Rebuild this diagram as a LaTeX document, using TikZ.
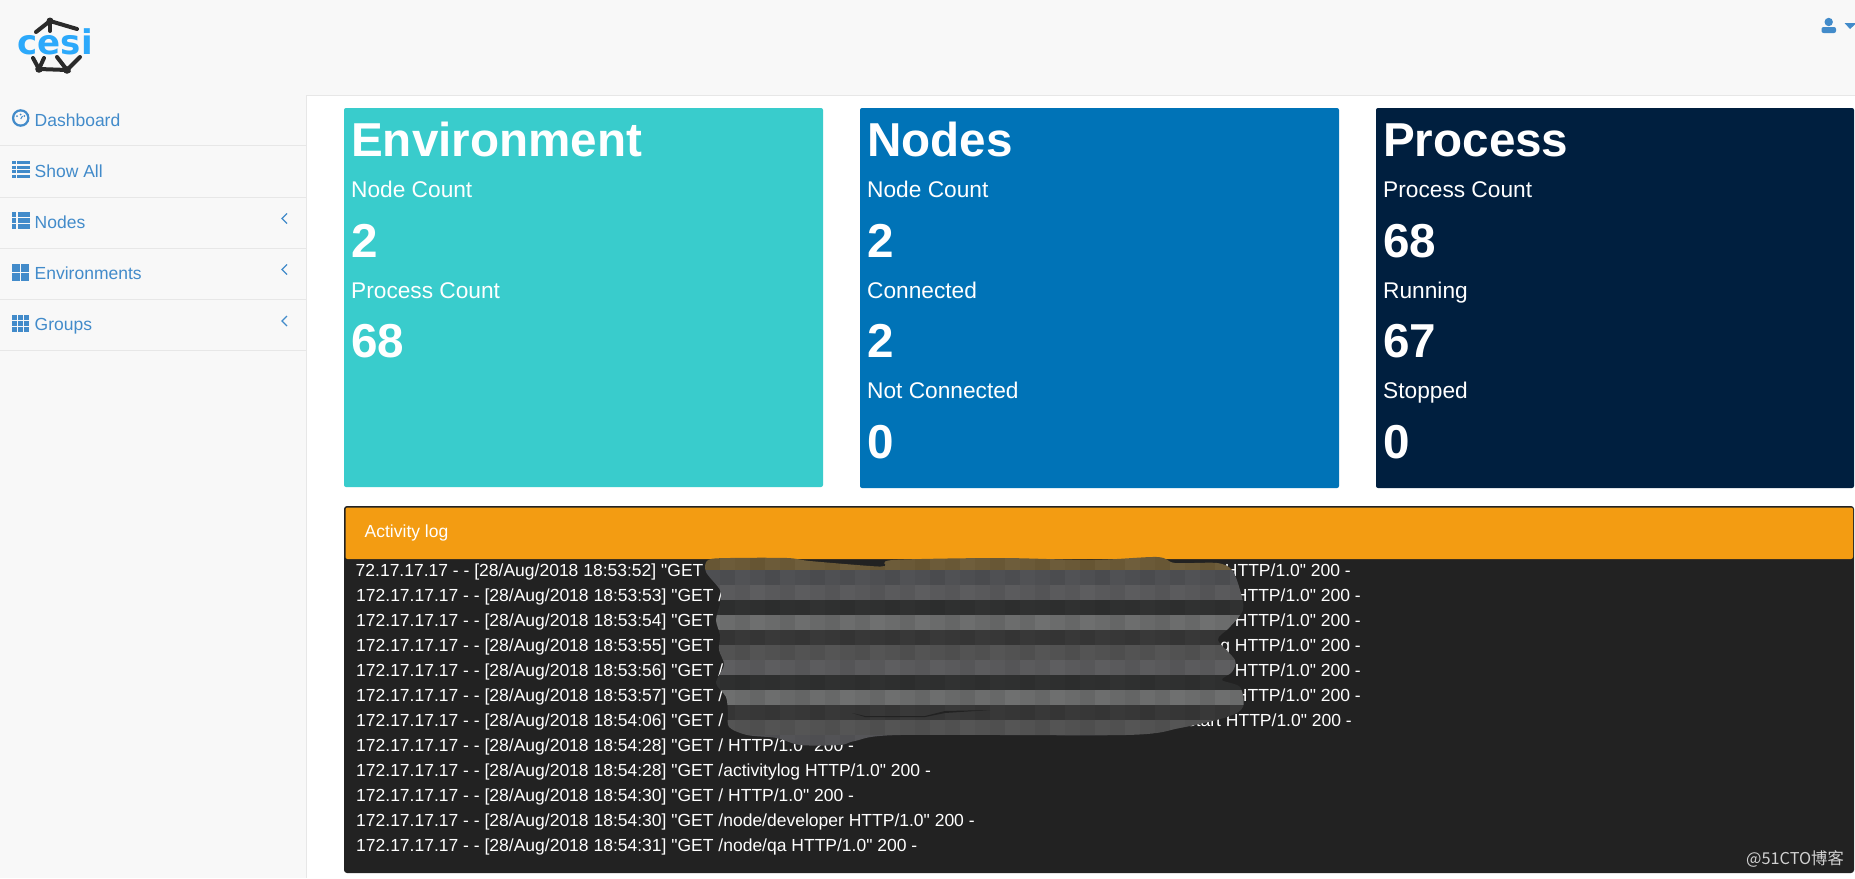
\documentclass[tikz,border=0pt]{standalone}
\usepackage{fontspec}
\setmainfont{Liberation Sans}
\newfontfamily\logtype{Liberation Sans}[Ligatures=NoCommon]
\newfontfamily\cjkfont{Noto Sans CJK SC}
\newfontfamily\logofont{DejaVu Sans}

\definecolor{barbg}{HTML}{F8F8F8}
\definecolor{barline}{HTML}{E7E7E7}
\definecolor{linkblue}{HTML}{428BCA}
\definecolor{envcard}{HTML}{39CCCC}
\definecolor{nodecard}{HTML}{0073B7}
\definecolor{proccard}{HTML}{001F3F}
\definecolor{logorange}{HTML}{F39C12}
\definecolor{logdark}{HTML}{222222}
\definecolor{cesiblue}{HTML}{2CA9FB}
\definecolor{cesidark}{HTML}{2B2B2B}

\tikzset{
  txt/.style={inner sep=0pt, anchor=base west},
  cardtitle/.style={txt, text=white, font=\fontsize{47.6}{50}\selectfont\bfseries},
  cardlabel/.style={txt, text=white, font=\fontsize{22.7}{26}\selectfont},
  cardvalue/.style={txt, text=white, font=\fontsize{47.6}{50}\selectfont\bfseries},
  sidelink/.style={txt, text=linkblue, font=\fontsize{17.5}{20}\selectfont},
  logline/.style={txt, text=white, font=\fontsize{17.5}{20}\selectfont\logtype},
  logtail/.style={logline, anchor=base east},
  sideline/.style={draw=barline, line width=1pt},
  chevron/.style={draw=linkblue, line width=1.1pt},
  linkfill/.style={fill=linkblue},
  cesiline/.style={draw=cesidark, line width=4pt, line cap=round}
}

\begin{document}
\begin{tikzpicture}[x=1pt,y=-1pt]
\useasboundingbox (0,0) rectangle (1855,878);
\fill [white] (0,0) rectangle (1855,878);

% top bar and side bar
\fill [barbg] (0,0) rectangle (1855,95);
\fill [barbg] (0,95) rectangle (306,878);
\draw [sideline] (306,95) -- (1855,95);
\draw [sideline] (306.5,95) -- (306.5,878);
\draw [sideline] (0,145) -- (306,145);
\draw [sideline] (0,197) -- (306,197);
\draw [sideline] (0,248) -- (306,248);
\draw [sideline] (0,299) -- (306,299);
\draw [sideline] (0,350) -- (306,350);

% logo
\draw [cesiline] (36,32) -- (50,21) -- (77,29);
\draw [cesiline] (50,21) -- (50,31);
\draw [cesiline] (33,58) -- (39,69) -- (67,70) -- (57,57);
\draw [cesiline] (44,58) -- (39,69);
\draw [cesiline] (80,57) -- (67,70);
\fill [cesidark] (50,21) circle [radius=3.5];
\fill [cesidark] (39,69) circle [radius=3.8];
\fill [cesidark] (67,70) circle [radius=3.8];
\node (logo) [txt, text=cesiblue, font=\fontsize{34}{40}\selectfont\logofont\bfseries] at (17.5,54) {cesi};

% user menu
\fill [linkblue] (1828.7,22) circle [radius=4.2];
\fill [linkblue, rounded corners=2pt] (1821.5,33) -- (1821.5,27) -- (1836,27) -- (1836,33) -- cycle;
\fill [linkblue] (1844.5,23) -- (1855,23) -- (1855,24.5) -- (1850,29) -- cycle;

% side bar icons
\fill [linkblue] (20.7,118) circle [radius=8.8];
\fill [barbg] (20.7,118) circle [radius=6.4];
\fill [linkblue] (17,116) circle [radius=1];
\fill [linkblue] (24.4,116) circle [radius=1];
\fill [linkblue] (20.7,114.5) circle [radius=1];
\draw [linkblue, line width=1pt] (20.7,119) -- (22.5,116);

\foreach \y in {161,165.5,170,174.5} {
  \fill [linkfill] (12,\y) rectangle +(3.5,3.2);
  \fill [linkfill] (17,\y) rectangle +(13,3.2);
}
\foreach \y in {212,218,224} {
  \fill [linkfill] (12,\y) rectangle +(4,5);
  \fill [linkfill] (17.5,\y) rectangle +(12.5,5);
}
\foreach \y in {264,273} \foreach \x in {12,21} {
  \fill [linkfill] (\x,\y) rectangle +(8,8);
}
\foreach \y in {315,321,327} \foreach \x in {12,18,24} {
  \fill [linkfill] (\x,\y) rectangle +(5,5);
}

% side bar links
\node (dashboard) [sidelink] at (34.5,126) {Dashboard};
\node (showall) [sidelink] at (34.5,177) {Show All};
\node (nodes) [sidelink] at (34.5,228) {Nodes};
\node (environments) [sidelink] at (34.5,279) {Environments};
\node (groups) [sidelink] at (34.5,330) {Groups};

\draw [chevron] (287,213.5) -- (282,218.5) -- (287,223.5);
\draw [chevron] (287,264.5) -- (282,269.5) -- (287,274.5);
\draw [chevron] (287,316) -- (282,321) -- (287,326);

% cards
\fill [envcard, rounded corners=2pt] (344,108) rectangle (823,487);
\fill [nodecard, rounded corners=2pt] (860,108) rectangle (1339,488);
\fill [proccard, rounded corners=2pt] (1376,108) rectangle (1854,488);

\node (envtitle) [cardtitle] at (351,156) {Environment};
\node (envlabela) [cardlabel] at (351,197) {Node Count};
\node (envvala) [cardvalue] at (351,257) {2};
\node (envlabelb) [cardlabel] at (351,298) {Process Count};
\node (envvalb) [cardvalue] at (351,357) {68};

\node (nodetitle) [cardtitle] at (867,156) {Nodes};
\node (nodelabela) [cardlabel] at (867,197) {Node Count};
\node (nodevala) [cardvalue] at (867,257) {2};
\node (nodelabelb) [cardlabel] at (867,298) {Connected};
\node (nodevalb) [cardvalue] at (867,357) {2};
\node (nodelabelc) [cardlabel] at (867,398) {Not Connected};
\node (nodevalc) [cardvalue] at (867,458) {0};

\node (proctitle) [cardtitle] at (1383,156) {Process};
\node (proclabela) [cardlabel] at (1383,197) {Process Count};
\node (procvala) [cardvalue] at (1383,257) {68};
\node (proclabelb) [cardlabel] at (1383,298) {Running};
\node (procvalb) [cardvalue] at (1383,357) {67};
\node (proclabelc) [cardlabel] at (1383,398) {Stopped};
\node (procvalc) [cardvalue] at (1383,458) {0};

% activity log
\fill [logdark, rounded corners=3pt] (344,506) rectangle (1854,873);
\fill [logorange, rounded corners=2pt] (345.5,507.5) -- (1853,507.5) -- (1853,559) -- (345.5,559) -- cycle;
\node (logtitle) [logline] at (364.5,537) {Activity log};

\node (loga) [logline] at (355.5,576) {72.17.17.17 - - [28/Aug/2018 18:53:52] "GET};
\node (logb) [logline] at (356,601) {172.17.17.17 - - [28/Aug/2018 18:53:53] "GET /};
\node (logc) [logline] at (356,626) {172.17.17.17 - - [28/Aug/2018 18:53:54] "GET};
\node (logd) [logline] at (356,651) {172.17.17.17 - - [28/Aug/2018 18:53:55] "GET};
\node (loge) [logline] at (356,676) {172.17.17.17 - - [28/Aug/2018 18:53:56] "GET /};
\node (logf) [logline] at (356,701) {172.17.17.17 - - [28/Aug/2018 18:53:57] "GET /};
\node (logg) [logline] at (356,726) {172.17.17.17 - - [28/Aug/2018 18:54:06] "GET /};
\node (logh) [logline] at (356,751) {172.17.17.17 - - [28/Aug/2018 18:54:28] "GET / HTTP/1.0" 200 -};
\node (logi) [logline] at (356,776) {172.17.17.17 - - [28/Aug/2018 18:54:28] "GET /activitylog HTTP/1.0" 200 -};
\node (logj) [logline] at (356,801) {172.17.17.17 - - [28/Aug/2018 18:54:30] "GET / HTTP/1.0" 200 -};
\node (logk) [logline] at (356,826) {172.17.17.17 - - [28/Aug/2018 18:54:30] "GET /node/developer HTTP/1.0" 200 -};
\node (logl) [logline] at (356,851) {172.17.17.17 - - [28/Aug/2018 18:54:31] "GET /node/qa HTTP/1.0" 200 -};

\node (taila) [logtail] at (1351,576) {HTTP/1.0" 200 -};
\node (tailb) [logtail] at (1361,601) {HTTP/1.0" 200 -};
\node (tailc) [logtail] at (1361,626) {HTTP/1.0" 200 -};
\node (taild) [logtail] at (1361,651) {g HTTP/1.0" 200 -};
\node (taile) [logtail] at (1361,676) {HTTP/1.0" 200 -};
\node (tailf) [logtail] at (1361,701) {HTTP/1.0" 200 -};
\node (tailg) [logtail] at (1352,726) {restart HTTP/1.0" 200 -};

% pixelated patch
\begin{scope}
\clip plot [smooth cycle, tension=.5] coordinates {
(708,560) (706,572) (720,590) (720,603) (716,620) (720,635) (719,650)
(724,665) (716,683) (726,697) (728,713) (729,727) (747,735) (777,738)
(800,745) (840,745) (855,741) (900,735) (1126,735) (1180,728) (1227,717) (1243,707)
(1240,687) (1222,680) (1232,672) (1235,660) (1218,640) (1229,628) (1243,610) (1240,590)
(1232,570) (1217,563) (1175,563) (1157,557) (1092,560) (1000,558) (893,560) (885,566)
(870,566) (810,561) (787,558) (730,558)};
\foreach \ytop/\cr/\cg/\cb [count=\row] in {555/107/90/56, 570/78/79/82, 585/89/89/91, 600/47/48/48,
  615/106/107/107, 630/55/55/55, 645/82/82/82, 660/90/90/92, 675/47/48/48,
  690/106/107/107, 705/55/55/55, 720/82/82/82, 735/82/82/85}
  \foreach \col in {0,...,37} {
    \pgfmathsetmacro\off{({-4,2,0,0,8,-3,-4,3,4,0,-3,0,7,-10,7,-3,0,-4}[int(mod(\col,18))]+mod(\col*7+\row*5,11)-5)*\cg/105}
    \pgfmathtruncatemacro\vr{\cr+\off}
    \pgfmathtruncatemacro\vg{\cg+\off}
    \pgfmathtruncatemacro\vb{\cb+\off}
    \definecolor{cellcolor}{RGB}{\vr,\vg,\vb}
    \fill [cellcolor] (690+15*\col,\ytop) rectangle +(15.4,15.4);
  }
\end{scope}
\fill [logdark] (852,713) -- (865,716) -- (925,716) -- (945,711) -- (990,710) -- (945,713) -- (925,717) -- (865,717) -- cycle;

% watermark
\node (mark) [txt, text=black!18, font=\fontsize{16.3}{18}\selectfont\cjkfont] at (1746,864) {@51CTO博客};
\end{tikzpicture}
\end{document}
